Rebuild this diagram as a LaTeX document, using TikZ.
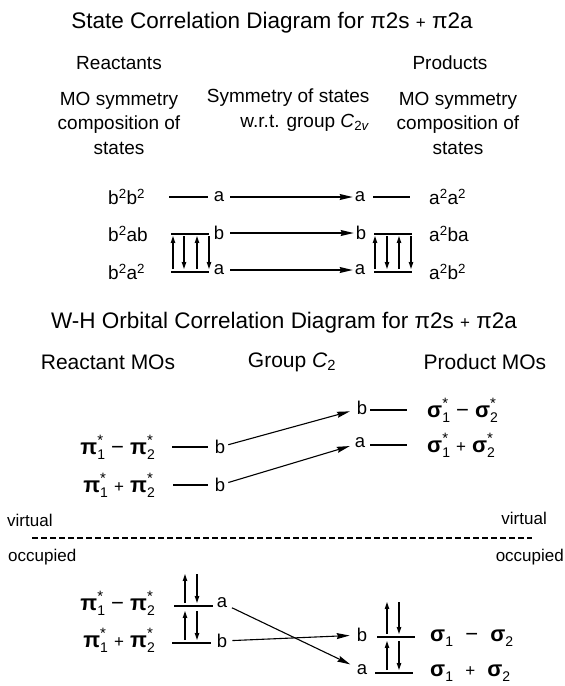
\documentclass[tikz,border=0pt]{standalone}
\usepackage{fontspec}
\setmainfont{Liberation Sans}
\usetikzlibrary{arrows.meta}

% orbital with stacked sub- and superscript
\newcommand{\orb}[3]{\textbf{#1}\rlap{\raisebox{0.42em}{\fontsize{15}{15}\selectfont #3}}\raisebox{-0.22em}{\fontsize{14}{14}\selectfont #2}}
\newcommand{\sig}[1]{\textbf{σ}\raisebox{-0.22em}{\fontsize{14}{14}\selectfont #1}}
\newcommand{\splus}{{\fontsize{17}{17}\selectfont +}}

\tikzset{
  ttl/.style={font=\fontsize{22.5}{27}\selectfont},
  hdr/.style={font=\fontsize{19}{24.5}\selectfont, align=center},
  hdrb/.style={font=\fontsize{21}{24}\selectfont},
  comp/.style={font=\fontsize{19}{20}\selectfont, inner sep=0pt},
  sym/.style={font=\fontsize{18.5}{20}\selectfont, inner sep=1pt},
  mo/.style={font=\fontsize{22}{24}\selectfont, inner sep=0pt},
  side/.style={font=\fontsize{17}{20}\selectfont, inner sep=0pt},
  lvl/.style={line width=2pt},
  corr/.style={line width=1.1pt, shorten <=2pt, shorten >=6pt,
    -{Stealth[length=13pt,width=6pt,inset=1.5pt]}},
  spin/.style={line width=1.1pt, -{Stealth[length=7pt,width=4.5pt,inset=0.5pt]}},
}

\begin{document}
\begin{tikzpicture}[x=1pt,y=-1pt]
  \useasboundingbox (0,0) rectangle (565,686);

  % ---- state correlation diagram ----
  \node[ttl] (title1) at (272,23) {State Correlation Diagram for π2s \splus\ π2a};
  \node[hdr] (hreact) at (119,63) {Reactants};
  \node[hdr] (hprod) at (450,63) {Products};
  \node[hdr] (hleft) at (119,123) {MO symmetry\\composition of\\states};
  \node[hdr, align=right, anchor=east] (hmid) at (373,110)
    {Symmetry of states\\w.r.t. group \textit{C}\textsubscript{2\textit{v}}};
  \node[hdr] (hright) at (458,123) {MO symmetry\\composition of\\states};

  \node[comp, anchor=west] (cl1) at (108,197) {b\textsuperscript{2}b\textsuperscript{2}};
  \node[comp, anchor=west] (cl2) at (108,234) {b\textsuperscript{2}ab};
  \node[comp, anchor=west] (cl3) at (108,272) {b\textsuperscript{2}a\textsuperscript{2}};
  \node[comp, anchor=west] (cr1) at (429,197) {a\textsuperscript{2}a\textsuperscript{2}};
  \node[comp, anchor=west] (cr2) at (429,234) {a\textsuperscript{2}ba};
  \node[comp, anchor=west] (cr3) at (429,272) {a\textsuperscript{2}b\textsuperscript{2}};

  \coordinate (sl1a) at (169,197); \coordinate (sl1b) at (208,197);
  \coordinate (sl2a) at (171,234); \coordinate (sl2b) at (209,234);
  \coordinate (sl3a) at (171,272); \coordinate (sl3b) at (209,272);
  \coordinate (sr1a) at (373,197); \coordinate (sr1b) at (410,197);
  \coordinate (sr2a) at (374,234); \coordinate (sr2b) at (412,234);
  \coordinate (sr3a) at (374,272); \coordinate (sr3b) at (412,272);
  \foreach \n in {l1,l2,l3,r1,r2,r3}
    \draw[lvl] (s\n a) -- (s\n b);

  \node[sym] (yl1) at (219,197) {a};
  \node[sym] (yl2) at (219,233) {b};
  \node[sym] (yl3) at (219,270) {a};
  \node[sym] (yr1) at (360,197) {a};
  \node[sym] (yr2) at (361,233) {b};
  \node[sym] (yr3) at (360,270) {a};
  \foreach \n in {1,2,3}
    \draw[corr, shorten <=5pt, shorten >=1pt] (yl\n) -- (yr\n);

  % electrons
  \foreach \x in {173,197,375,399}
    \draw[spin] (\x,269) -- (\x,236);
  \foreach \x in {184,209,387,411}
    \draw[spin] (\x,236) -- (\x,269);

  % ---- W-H orbital correlation diagram ----
  \node[ttl] (title2) at (284,323) {W-H Orbital Correlation Diagram for π2s \splus\ π2a};
  \node[hdrb] (hrmo) at (108,362) {Reactant MOs};
  \node[hdrb] (hgrp) at (292,362) {Group \textit{C}\textsubscript{2}};
  \node[hdrb] (hpmo) at (485,362) {Product MOs};

  % virtual orbitals
  \node[mo, anchor=east] (mv1) at (155,447) {\orb{π}{1}{*} − \orb{π}{2}{*}};
  \node[mo, anchor=east] (mv2) at (155,485) {\orb{π}{1}{*} \splus\ \orb{π}{2}{*}};
  \node[mo, anchor=west] (pv1) at (427,410) {\orb{σ}{1}{*} − \orb{σ}{2}{*}};
  \node[mo, anchor=west] (pv2) at (427,445) {\orb{σ}{1}{*} \splus\ \orb{σ}{2}{*}};

  \coordinate (vl1a) at (172,447); \coordinate (vl1b) at (208,447);
  \coordinate (vl2a) at (173,485); \coordinate (vl2b) at (208,485);
  \coordinate (vr1a) at (370,410); \coordinate (vr1b) at (407,410);
  \coordinate (vr2a) at (370,445); \coordinate (vr2b) at (407,445);
  \foreach \n in {l1,l2,r1,r2}
    \draw[lvl] (v\n a) -- (v\n b);

  \node[sym] (gl1) at (220,447) {b};
  \node[sym] (gl2) at (220,485) {b};
  \node[sym] (gr1) at (362,408) {b};
  \node[sym] (gr2) at (360,443) {a};
  \draw[corr] (gl1) -- (gr1);
  \draw[corr, shorten >=4pt] (gl2) -- (gr2);

  % virtual / occupied border
  \node[side, anchor=west] (virtl) at (7,520) {virtual};
  \node[side, anchor=west] (occl) at (8,557) {occupied};
  \node[side, anchor=east] (virtr) at (547,518) {virtual};
  \node[side, anchor=east] (occr) at (564,557) {occupied};
  \coordinate (bordl) at (32,538); \coordinate (bordr) at (532,538);
  \draw[line width=2.5pt, dash pattern=on 6pt off 3pt] (bordl) -- (bordr);

  % occupied orbitals
  \node[mo, anchor=east] (mo1) at (155,603) {\orb{π}{1}{*} − \orb{π}{2}{*}};
  \node[mo, anchor=east] (mo2) at (155,640) {\orb{π}{1}{*} \splus\ \orb{π}{2}{*}};
  \node[mo, anchor=west] (po1) at (430,638) {\sig{1}\ \ −\ \ \sig{2}};
  \node[mo, anchor=west] (po2) at (430,673) {\sig{1}\ \ \splus\ \ \sig{2}};

  \coordinate (ol1a) at (174,606); \coordinate (ol1b) at (213,606);
  \coordinate (ol2a) at (172,643); \coordinate (ol2b) at (211,643);
  \coordinate (or1a) at (377,637); \coordinate (or1b) at (415,637);
  \coordinate (or2a) at (375,673); \coordinate (or2b) at (413,673);
  \foreach \n in {l1,l2,r1,r2}
    \draw[lvl] (o\n a) -- (o\n b);

  \node[sym] (hl1) at (222,603) {a};
  \node[sym] (hl2) at (222,641) {b};
  \node[sym] (hr1) at (362,635) {b};
  \node[sym] (hr2) at (362,670) {a};
  \draw[corr, shorten <=4pt] (hl1) -- (hr2);
  \draw[corr, shorten <=4pt] (hl2) -- (hr1);

  % electrons
  \foreach \y/\z in {603/574,640/611}
    {\draw[spin] (185,\y) -- (185,\z); \draw[spin] (197,\z) -- (197,\y);}
  \foreach \y/\z in {634/602,670/641}
    {\draw[spin] (387,\y) -- (387,\z); \draw[spin] (399,\z) -- (399,\y);}
\end{tikzpicture}
\end{document}
